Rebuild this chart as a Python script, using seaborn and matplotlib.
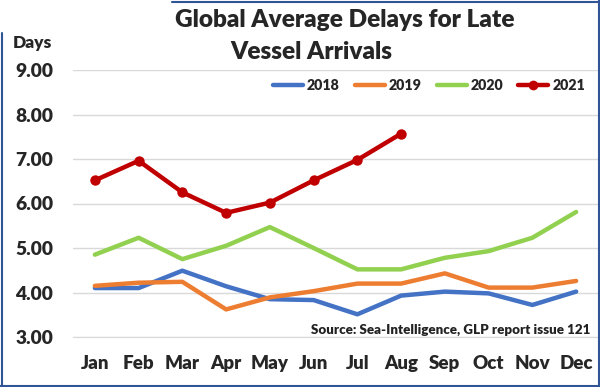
import matplotlib
matplotlib.use("Agg")
import matplotlib.pyplot as plt
import seaborn as sns
import pandas as pd
from matplotlib.lines import Line2D

months = ["Jan", "Feb", "Mar", "Apr", "May", "Jun", "Jul", "Aug", "Sep", "Oct", "Nov", "Dec"]
y2018 = [4.10, 4.10, 4.49, 4.14, 3.85, 3.83, 3.51, 3.93, 4.02, 3.98, 3.72, 4.02]
y2019 = [4.15, 4.22, 4.24, 3.62, 3.89, 4.03, 4.20, 4.20, 4.43, 4.11, 4.11, 4.26]
y2020 = [4.85, 5.23, 4.75, 5.05, 5.47, 5.00, 4.52, 4.52, 4.78, 4.93, 5.23, 5.81]
y2021 = [6.52, 6.96, 6.25, 5.79, 6.02, 6.52, 6.98, 7.57]
yticks = [3.0, 4.0, 5.0, 6.0, 7.0, 8.0, 9.0]

series = {"2018": y2018, "2019": y2019, "2020": y2020, "2021": y2021}
colors = {"2018": "#4472C4", "2019": "#ED7D31", "2020": "#92D050", "2021": "#C00000"}

rows = []
for name, vals in series.items():
    for i, v in enumerate(vals):
        rows.append({"Year": name, "x": i, "Days": v})
df = pd.DataFrame(rows)

sns.set_style("white")
plt.rcParams["font.family"] = ["Lato", "DejaVu Sans"]
W = "heavy"
plt.rcParams["font.weight"] = W

fig = plt.figure(figsize=(6.0, 3.87), dpi=100)
ax = fig.add_axes([73 / 600, 1 - 337 / 387, (598 - 73) / 600, (337 - 70) / 387])
R = fig.canvas.get_renderer()


def scale_for(text, size, target_w):
    t = fig.text(0, 0, text, fontsize=size, fontweight=W)
    w = t.get_window_extent(R).width
    t.remove()
    return size * target_w / w


for name in ["2018", "2019", "2020"]:
    sns.lineplot(data=df[df.Year == name], x="x", y="Days", color=colors[name],
                 linewidth=3.2, ax=ax, legend=False, zorder=3)
sns.lineplot(data=df[df.Year == "2021"], x="x", y="Days", color=colors["2021"],
             linewidth=3.2, marker="o", markersize=7.5, markeredgewidth=0,
             ax=ax, legend=False, zorder=4)

ax.set_xlim(-0.5, 11.5)
ax.set_ylim(3.0, 9.0)
ysz = scale_for("9.00", 12, 38)
xsz = scale_for("MayJan", 12, 66)
ax.set_yticks(yticks)
ax.set_yticklabels([f"{v:.2f}" for v in yticks], fontsize=ysz, fontweight=W)
ax.set_xticks(range(12))
ax.set_xticklabels(months, fontsize=xsz, fontweight=W)
ax.set_xticks([i - 0.5 for i in range(13)], minor=True)
ax.tick_params(axis="x", which="major", length=0, pad=13)
ax.tick_params(axis="x", which="minor", direction="in", length=6, color="#D9D9D9", width=1)
ax.tick_params(axis="y", length=0, pad=14.4)
ax.set_xlabel("")
ax.set_ylabel("")
ax.grid(axis="y", color="#D9D9D9", linewidth=1)
for s in ["top", "right", "left"]:
    ax.spines[s].set_visible(False)
ax.spines["bottom"].set_color("#D9D9D9")
ax.set_axisbelow(True)

lsz = scale_for("2018", 12, 33)
handles = [Line2D([], [], color=colors[n], linewidth=3.2,
                  marker="o" if n == "2021" else None, markersize=7, markeredgewidth=0)
           for n in series]
leg = ax.legend(handles, list(series.keys()), loc="center right", ncol=4, frameon=False,
                bbox_to_anchor=((585 - 73) / 525, (337 - 85) / 267), handlelength=30 * 0.72 / lsz,
                handletextpad=4 * 0.72 / lsz, columnspacing=15 * 0.72 / lsz,
                borderaxespad=0, borderpad=0, prop={"weight": W, "size": lsz})

src = "Source: Sea-Intelligence, GLP report issue 121"
ssz = scale_for(src, 10, 280)
ax.text((590 - 73) / 525, (337 - 330) / 267, src, transform=ax.transAxes,
        ha="right", va="center", fontsize=ssz, fontweight=W, color="#222222")

t1 = "Global Average Delays for Late"
t2 = "Vessel Arrivals"
tsz = scale_for(t1, 16, 340)
fig.text(345 / 600, 1 - 20 / 387, t1, ha="center", va="center", fontsize=tsz, fontweight=W)
fig.text(311 / 600, 1 - 52 / 387, t2, ha="center", va="center", fontsize=tsz, fontweight=W)
dsz = scale_for("Days", 12, 39)
fig.text(13 / 600, 1 - 43 / 387, "Days", ha="left", va="center", fontsize=dsz, fontweight=W)

bc = "#2F5597"
fig.add_artist(Line2D([1.5 / 600, 1.5 / 600], [0, 1 - 33 / 387], transform=fig.transFigure, color=bc, linewidth=1.5))
fig.add_artist(Line2D([0, 1], [1.5 / 387, 1.5 / 387], transform=fig.transFigure, color=bc, linewidth=1.5))
fig.add_artist(Line2D([598.5 / 600, 598.5 / 600], [0, 1], transform=fig.transFigure, color=bc, linewidth=1.5))
fig.add_artist(Line2D([172 / 600, 1], [385.5 / 387, 385.5 / 387], transform=fig.transFigure, color=bc, linewidth=1.5))

fig.savefig("out.png", dpi=100)
